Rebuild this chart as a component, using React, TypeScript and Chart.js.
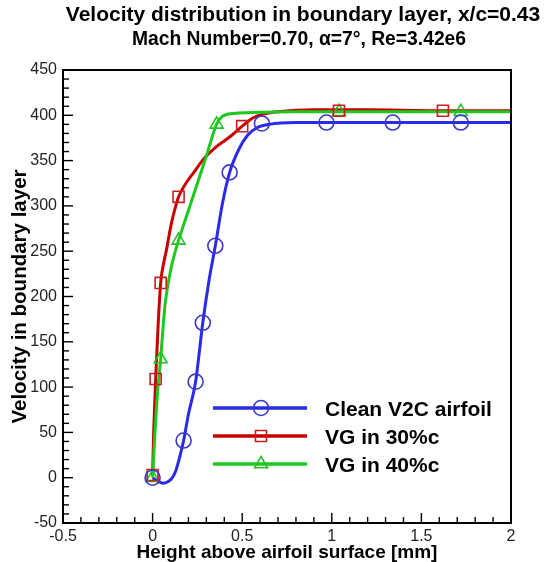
import { useEffect, useRef } from 'react';
import { Chart, registerables } from 'chart.js';

Chart.register(...registerables);

const titleLines = ['Velocity distribution in boundary layer, x/c=0.43', 'Mach Number=0.70, α=7°, Re=3.42e6'];
const xTitle = 'Height above airfoil surface [mm]';
const yTitle = 'Velocity in boundary layer';
const legendLabels = ['Clean V2C airfoil', 'VG in 30%c', 'VG in 40%c'];

const xMin = -0.5, xMax = 2, xStep = 0.5, xMinor = 0.1;
const yMin = -50, yMax = 450, yStep = 50, yMinor = 10;
const xTickValues = [-0.5, 0, 0.5, 1, 1.5, 2];
const xTickLabels = ['-0.5', '0', '0.5', '1', '1.5', '2'];
const yTickValues = [-50, 0, 50, 100, 150, 200, 250, 300, 350, 400, 450];
const yTickLabels = ['-50', '0', '50', '100', '150', '200', '250', '300', '350', '400', '450'];

// Clean V2C airfoil
const cleanLineX = [0, 0.03, 0.06, 0.09, 0.11, 0.13, 0.15, 0.173, 0.2, 0.24, 0.28, 0.315, 0.35, 0.39, 0.43, 0.48, 0.53, 0.58, 0.65, 0.8, 1.2, 2];
const cleanLineY = [0, -4, -6, -4, 0, 8, 22, 41, 70, 106, 171, 218, 256, 303, 337, 362, 378, 386, 390, 392, 392, 392];
const cleanMarkX = [0, 0.173, 0.24, 0.28, 0.35, 0.43, 0.61, 0.97, 1.34, 1.72];
const cleanMarkY = [0, 41, 106, 171, 256, 337, 391, 392, 392, 392];

// VG in 30%c
const vg30LineX = [0, 0.006, 0.017, 0.03, 0.045, 0.065, 0.078, 0.1, 0.12, 0.145, 0.18, 0.23, 0.29, 0.36, 0.43, 0.5, 0.55, 0.61, 0.7, 0.9, 1.2, 1.6, 2];
const vg30LineY = [3, 50, 109, 165, 215, 240, 252, 276, 293, 310, 323, 337, 353, 366, 376, 388, 396, 401, 404, 406, 406, 405, 405];
const vg30MarkX = [0, 0.017, 0.045, 0.145, 0.5, 1.04, 1.62];
const vg30MarkY = [3, 109, 215, 310, 388, 405, 405];

// VG in 40%c
const vg40LineX = [0, 0.012, 0.028, 0.045, 0.056, 0.07, 0.105, 0.145, 0.2, 0.25, 0.3, 0.357, 0.39, 0.45, 0.55, 0.8, 1.2, 2];
const vg40LineY = [0, 45, 95, 131, 160, 192, 233, 262, 295, 325, 355, 390, 399, 402, 403, 404, 404, 404];
const vg40MarkX = [0, 0.045, 0.145, 0.357, 1.04, 1.72];
const vg40MarkY = [0, 131, 262, 390, 404, 404];

const lineColors = ['#2a2ae8', '#c80000', '#1ec81e'];
const markColors = ['#3838cc', '#c81e1e', '#28c028'];
const markStyles = ['circle', 'rect', 'triangle'];

const FONT = "'Liberation Sans', Arial, sans-serif";

const pts = (xs: number[], ys: number[]) => xs.map((x, i) => ({ x, y: ys[i] }));

const labelFor = (values: number[], labels: string[], v: number) => {
  const i = values.findIndex((t) => Math.abs(t - v) < 1e-9);
  return i >= 0 ? labels[i] : '';
};

function drawMarker(ctx: CanvasRenderingContext2D, style: string, x: number, y: number, color: string) {
  ctx.save();
  ctx.strokeStyle = color;
  ctx.lineWidth = 1.6;
  ctx.beginPath();
  if (style === 'circle') {
    ctx.arc(x, y, 7.5, 0, Math.PI * 2);
  } else if (style === 'rect') {
    ctx.rect(x - 5.5, y - 5.5, 11, 11);
  } else {
    const r = 7.5;
    ctx.moveTo(x, y - r);
    ctx.lineTo(x + r * 0.866, y + r * 0.5);
    ctx.lineTo(x - r * 0.866, y + r * 0.5);
    ctx.closePath();
  }
  ctx.stroke();
  ctx.restore();
}

const decor = {
  id: 'decor',
  afterDraw(chart: any) {
    const { ctx, chartArea: a, scales } = chart;
    const xs = scales.x, ys = scales.y;
    ctx.save();
    // ticks (inward)
    ctx.strokeStyle = '#000';
    ctx.lineWidth = 1.4;
    const nx = Math.round((xMax - xMin) / xMinor);
    for (let i = 0; i <= nx; i++) {
      const v = xMin + i * xMinor;
      const px = xs.getPixelForValue(v);
      const major = i % Math.round(xStep / xMinor) === 0;
      ctx.beginPath();
      ctx.moveTo(px, a.bottom);
      ctx.lineTo(px, a.bottom - (major ? 10 : 6));
      ctx.stroke();
    }
    const ny = Math.round((yMax - yMin) / yMinor);
    for (let i = 0; i <= ny; i++) {
      const v = yMin + i * yMinor;
      const py = ys.getPixelForValue(v);
      const major = i % Math.round(yStep / yMinor) === 0;
      ctx.beginPath();
      ctx.moveTo(a.left, py);
      ctx.lineTo(a.left + (major ? 10 : 6), py);
      ctx.stroke();
    }
    // frame
    ctx.lineWidth = 2;
    ctx.strokeRect(a.left, a.top, a.right - a.left, a.bottom - a.top);

    // title
    ctx.fillStyle = '#000';
    ctx.textAlign = 'center';
    ctx.textBaseline = 'alphabetic';
    ctx.font = `bold 21px ${FONT}`;
    ctx.fillText(titleLines[0], 303, 21);
    ctx.font = `bold 19.3px ${FONT}`;
    ctx.fillText(titleLines[1], 299, 45);

    // legend
    const ly = [408, 436, 464];
    for (let i = 0; i < 3; i++) {
      ctx.strokeStyle = lineColors[i];
      ctx.lineWidth = 3.5;
      ctx.beginPath();
      ctx.moveTo(213, ly[i]);
      ctx.lineTo(307, ly[i]);
      ctx.stroke();
      drawMarker(ctx, markStyles[i], 261, ly[i], markColors[i]);
      ctx.fillStyle = '#000';
      ctx.font = `bold 21px ${FONT}`;
      ctx.textAlign = 'left';
      ctx.fillText(legendLabels[i], 325, ly[i] + 7.5);
    }
    ctx.restore();
  },
};

export default function App() {
  const ref = useRef<HTMLCanvasElement>(null);
  useEffect(() => {
    document.body.style.margin = '0';
    const lineDs = (xs: number[], ys: number[], i: number, order: number) => ({
      data: pts(xs, ys),
      showLine: true,
      borderColor: lineColors[i],
      borderWidth: 3,
      pointRadius: 0,
      cubicInterpolationMode: 'monotone' as const,
      tension: 0.4,
      order,
    });
    const markDs = (xs: number[], ys: number[], i: number) => ({
      data: pts(xs, ys),
      showLine: false,
      pointStyle: markStyles[i],
      pointRadius: i === 1 ? 7.8 : 7.5,
      pointBorderWidth: 1.6,
      pointBorderColor: markColors[i],
      pointBackgroundColor: 'rgba(0,0,0,0)',
      order: 0,
    });
    const chart = new Chart(ref.current!, {
      type: 'scatter',
      data: {
        datasets: [
          lineDs(cleanLineX, cleanLineY, 0, 3),
          lineDs(vg30LineX, vg30LineY, 1, 2),
          lineDs(vg40LineX, vg40LineY, 2, 1),
          markDs(cleanMarkX, cleanMarkY, 0),
          markDs(vg30MarkX, vg30MarkY, 1),
          markDs(vg40MarkX, vg40MarkY, 2),
        ] as any,
      },
      options: {
        animation: false,
        responsive: false,
        layout: { padding: { top: 70, right: 40, left: 0, bottom: 0 } },
        plugins: { legend: { display: false }, tooltip: { enabled: false }, title: { display: false } },
        scales: {
          x: {
            type: 'linear',
            min: xMin,
            max: xMax,
            ticks: {
              stepSize: xStep,
              font: { family: FONT, size: 16 },
              color: '#222',
              padding: 4,
              callback: (v: any) => labelFor(xTickValues, xTickLabels, Number(v)),
            },
            grid: { display: false, drawTicks: false },
            border: { display: false },
            title: { display: true, text: xTitle, color: '#000', font: { family: FONT, size: 19, weight: 'bold', lineHeight: 1 }, padding: 0 },
            afterFit: (s: any) => { s.height = 39; },
          },
          y: {
            type: 'linear',
            min: yMin,
            max: yMax,
            ticks: {
              stepSize: yStep,
              font: { family: FONT, size: 16 },
              color: '#222',
              padding: 6,
              callback: (v: any) => labelFor(yTickValues, yTickLabels, Number(v)),
            },
            grid: { display: false, drawTicks: false },
            border: { display: false },
            title: { display: true, text: yTitle, color: '#000', font: { family: FONT, size: 20.5, weight: 'bold', lineHeight: 1.2 }, padding: { top: 8.5, bottom: 0 } },
            afterFit: (s: any) => { s.width = 63; },
          },
        },
      } as any,
      plugins: [decor],
    });
    return () => chart.destroy();
  }, []);
  return <canvas ref={ref} width={551} height={562} />;
}
